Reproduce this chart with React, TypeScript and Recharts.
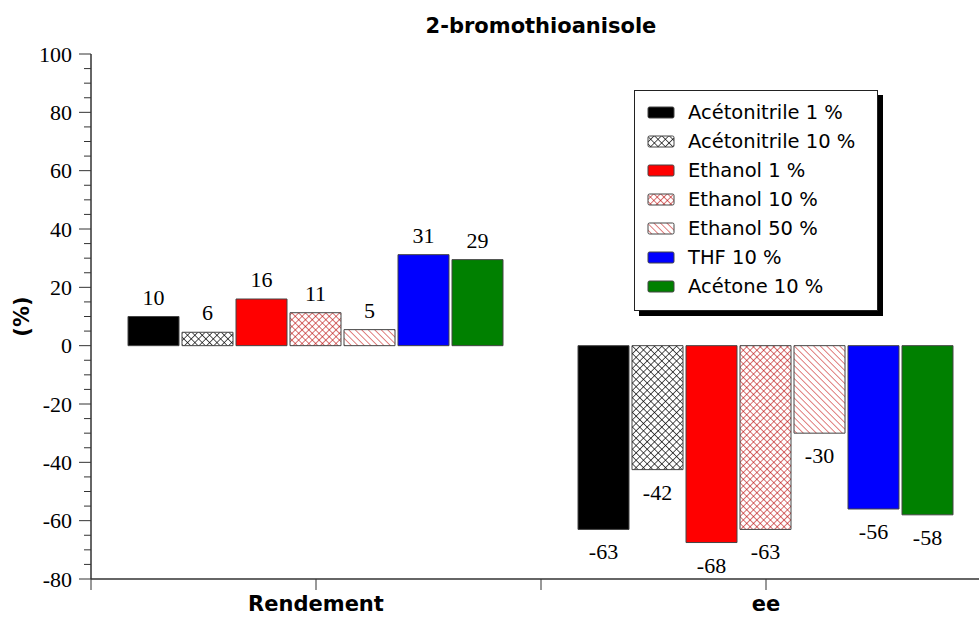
import React from "react";
import { BarChart, Bar, XAxis, YAxis, Legend, LabelList } from "recharts";

const categories = ["Rendement", "ee"];

// bar heights as drawn, and the numbers printed next to them
const acetonitrile1 = [10, -63];
const acetonitrile1Labels = [10, -63];
const acetonitrile10 = [4.6, -42.5];
const acetonitrile10Labels = [6, -42];
const ethanol1 = [16, -67.5];
const ethanol1Labels = [16, -68];
const ethanol10 = [11.3, -63];
const ethanol10Labels = [11, -63];
const ethanol50 = [5.5, -30];
const ethanol50Labels = [5, -30];
const thf10 = [31.2, -56];
const thf10Labels = [31, -56];
const acetone10 = [29.5, -58];
const acetone10Labels = [29, -58];

const majorTicks = [-80, -60, -40, -20, 0, 20, 40, 60, 80, 100];

const series = [
  { key: "acn1", name: "Acétonitrile 1 %", values: acetonitrile1, labels: acetonitrile1Labels, fill: "#000000" },
  { key: "acn10", name: "Acétonitrile 10 %", values: acetonitrile10, labels: acetonitrile10Labels, fill: "url(#crossBlack)" },
  { key: "eth1", name: "Ethanol 1 %", values: ethanol1, labels: ethanol1Labels, fill: "#ff0000" },
  { key: "eth10", name: "Ethanol 10 %", values: ethanol10, labels: ethanol10Labels, fill: "url(#crossRed)" },
  { key: "eth50", name: "Ethanol 50 %", values: ethanol50, labels: ethanol50Labels, fill: "url(#diagRed)" },
  { key: "thf10", name: "THF 10 %", values: thf10, labels: thf10Labels, fill: "#0000ff" },
  { key: "ace10", name: "Acétone 10 %", values: acetone10, labels: acetone10Labels, fill: "#008000" },
];

const data = categories.map((name, i) => {
  const row: Record<string, string | number> = { name };
  series.forEach((s) => {
    row[s.key] = s.values[i];
    row[s.key + "Label"] = s.labels[i];
  });
  return row;
});

// minor ticks every 5 between the labelled ones
const yTicks: number[] = [];
majorTicks.forEach((t, i) => {
  yTicks.push(t);
  if (i < majorTicks.length - 1) {
    for (let k = 1; k < 4; k++) yTicks.push(t + k * 5);
  }
});

const CHART_W = 1000;
const CHART_H = 617;
const MARGIN = { top: 54, right: 9, left: 0, bottom: 0 };
const Y_AXIS_W = 91;
const PLOT_W = CHART_W - MARGIN.left - MARGIN.right - Y_AXIS_W;
const HALF_BAND = PLOT_W / categories.length / 2;

const SANS = "'DejaVu Sans', Verdana, sans-serif";
const SERIF = "'Liberation Serif', 'Times New Roman', serif";
const AXIS = "#333";

const Patterns = ({ prefix = "" }: { prefix?: string }) => (
  <defs>
    <pattern id={prefix + "crossBlack"} width={5.2} height={5.2} patternUnits="userSpaceOnUse" patternTransform="rotate(45)">
      <rect width={5.2} height={5.2} fill="#fff" />
      <line x1={0} y1={0} x2={5.2} y2={0} stroke="#000" strokeWidth={1.3} />
      <line x1={0} y1={0} x2={0} y2={5.2} stroke="#000" strokeWidth={1.3} />
    </pattern>
    <pattern id={prefix + "crossRed"} width={4.8} height={4.8} patternUnits="userSpaceOnUse" patternTransform="rotate(45)">
      <rect width={4.8} height={4.8} fill="#fff" />
      <line x1={0} y1={0} x2={4.8} y2={0} stroke="#b80000" strokeWidth={1.1} />
      <line x1={0} y1={0} x2={0} y2={4.8} stroke="#b80000" strokeWidth={1.1} />
    </pattern>
    <pattern id={prefix + "diagRed"} width={4.6} height={4.6} patternUnits="userSpaceOnUse" patternTransform="rotate(45)">
      <rect width={4.6} height={4.6} fill="#fff" />
      <line x1={0} y1={0} x2={4.6} y2={0} stroke="#c00000" strokeWidth={1} />
    </pattern>
  </defs>
);

const YTick = (props: any) => {
  const { x, y, payload } = props;
  const v = payload.value;
  const major = v % 20 === 0;
  return (
    <g>
      <line x1={x - (major ? 12 : 7)} x2={x} y1={y} y2={y} stroke={AXIS} />
      {major && (
        <text x={x - 19} y={y} dy="0.35em" textAnchor="end" fontFamily={SERIF} fontSize={22} fill="#000">
          {v}
        </text>
      )}
    </g>
  );
};

const XTick = (props: any) => {
  const { x, y, payload, index } = props;
  return (
    <g>
      <line x1={x} x2={x} y1={y} y2={y + 11} stroke={AXIS} />
      <line x1={x - HALF_BAND} x2={x - HALF_BAND} y1={y} y2={y + 11} stroke={AXIS} />
      {index === categories.length - 1 && (
        <line x1={x + HALF_BAND} x2={x + HALF_BAND} y1={y} y2={y + 11} stroke={AXIS} />
      )}
      <text x={x} y={y + 32} textAnchor="middle" fontFamily={SANS} fontWeight="bold" fontSize={21} fill="#000">
        {payload.value}
      </text>
    </g>
  );
};

const BarValue = (props: any) => {
  const vb = props.viewBox ?? {};
  const x = props.x ?? vb.x;
  const y = props.y ?? vb.y;
  const width = props.width ?? vb.width;
  const height = props.height ?? vb.height;
  const value = Number(props.value);
  const top = Math.min(y, y + height);
  const bottom = Math.max(y, y + height);
  const ty = value >= 0 ? top - 12 : bottom + 30;
  return (
    <text x={x + width / 2} y={ty} textAnchor="middle" fontFamily={SERIF} fontSize={22} fill="#000">
      {value}
    </text>
  );
};

const YLabel = (props: any) => {
  const vb = props.viewBox ?? { x: 0, y: MARGIN.top, height: 525 };
  const cx = vb.x + 22;
  const cy = vb.y + vb.height / 2;
  return (
    <text
      x={cx}
      y={cy}
      transform={`rotate(-90 ${cx} ${cy})`}
      textAnchor="middle"
      dy="0.35em"
      fontFamily={SANS}
      fontWeight="bold"
      fontSize={21}
      fill="#000"
    >
      (%)
    </text>
  );
};

const LegendBox = () => (
  <div
    style={{
      boxSizing: "border-box",
      width: 244,
      border: "1px solid #222",
      boxShadow: "5px 5px 0 #000",
      background: "#fff",
      padding: "7px 0 9px 12px",
      fontFamily: SANS,
      fontSize: 19.5,
      color: "#000",
    }}
  >
    <svg width={0} height={0} style={{ position: "absolute" }}>
      <Patterns prefix="lg-" />
    </svg>
    {series.map((s) => (
      <div key={s.key} style={{ height: 29, display: "flex", alignItems: "center", whiteSpace: "nowrap" }}>
        <svg width={28} height={14} style={{ marginRight: 13, flex: "none" }}>
          <rect
            x={1}
            y={1}
            width={26}
            height={11}
            rx={1.5}
            fill={s.fill.startsWith("url") ? s.fill.replace("#", "#lg-") : s.fill}
            stroke="#444"
            strokeWidth={1}
          />
        </svg>
        <span>{s.name}</span>
      </div>
    ))}
  </div>
);

export default function App() {
  return (
    <div style={{ position: "absolute", left: 0, top: 0, width: 979, height: 617, overflow: "hidden", background: "#fff" }}>
      <BarChart width={CHART_W} height={CHART_H} data={data} margin={MARGIN} barCategoryGap={37} barGap={3}>
        <Patterns />
        <text x={MARGIN.left + Y_AXIS_W + PLOT_W / 2} y={33} textAnchor="middle" fontFamily={SANS} fontWeight="bold" fontSize={21} fill="#000">
          2-bromothioanisole
        </text>
        <XAxis
          dataKey="name"
          height={38}
          interval={0}
          tickSize={0}
          tickMargin={0}
          tickLine={false}
          axisLine={{ stroke: AXIS, strokeWidth: 1.5 }}
          tick={XTick}
        />
        <YAxis
          type="number"
          domain={[-80, 100]}
          ticks={yTicks}
          interval={0}
          width={Y_AXIS_W}
          tickSize={0}
          tickMargin={0}
          tickLine={false}
          axisLine={{ stroke: AXIS, strokeWidth: 1.5 }}
          tick={YTick}
          allowDataOverflow
          label={<YLabel />}
        />
        <Legend
          layout="vertical"
          align="center"
          verticalAlign="middle"
          wrapperStyle={{ left: 634, top: 90, width: 244 }}
          content={() => <LegendBox />}
        />
        {series.map((s) => (
          <Bar key={s.key} dataKey={s.key} name={s.name} fill={s.fill} stroke="#444" strokeWidth={1} isAnimationActive={false}>
            <LabelList dataKey={s.key + "Label"} content={BarValue} />
          </Bar>
        ))}
      </BarChart>
    </div>
  );
}
